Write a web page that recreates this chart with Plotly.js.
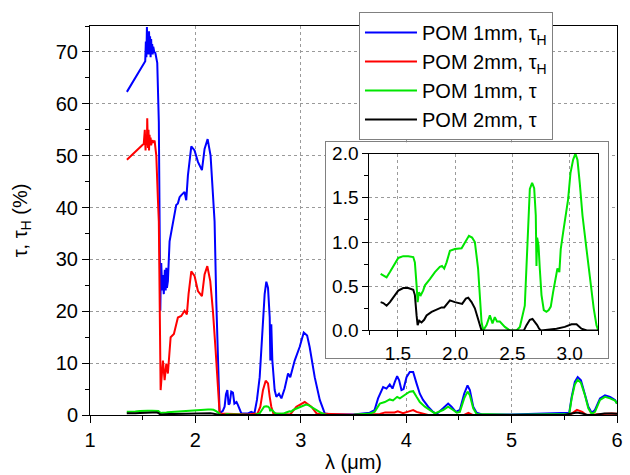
<!DOCTYPE html>
<html>
<head>
<meta charset="utf-8">
<script src="https://cdn.plot.ly/plotly-3.0.1.min.js"></script>
<style>html,body{margin:0;padding:0;background:#fff;}#chart{width:630px;height:475px;}</style>
</head>
<body>
<div id="chart"></div>
<script>
// POM 1mm, tau_H (blue)
var blueX = [1.35, 1.524, 1.53, 1.535, 1.54, 1.545, 1.55, 1.555, 1.56, 1.565, 1.57, 1.575, 1.58, 1.585, 1.59, 1.595, 1.60, 1.61, 1.62, 1.638, 1.653, 1.662, 1.667, 1.672, 1.676, 1.685, 1.69, 1.70, 1.71, 1.718, 1.724, 1.73, 1.739, 1.755, 1.786, 1.818, 1.834, 1.85, 1.866, 1.897, 1.913, 1.929, 1.961, 1.992, 2.024, 2.062, 2.087, 2.116, 2.144, 2.166, 2.182, 2.198, 2.214, 2.23, 2.26, 2.277, 2.29, 2.303, 2.315, 2.325, 2.34, 2.356, 2.37, 2.39, 2.404, 2.436, 2.50, 2.53, 2.56, 2.584, 2.61, 2.635, 2.657, 2.673, 2.689, 2.705, 2.711, 2.72, 2.73, 2.752, 2.768, 2.793, 2.816, 2.847, 2.879, 2.90, 2.942, 2.989, 3.028, 3.06, 3.084, 3.132, 3.18, 3.227, 3.3, 3.5, 3.654, 3.70, 3.733, 3.781, 3.813, 3.844, 3.87, 3.892, 3.914, 3.933, 3.955, 3.975, 4.003, 4.034, 4.066, 4.098, 4.129, 4.16, 4.208, 4.255, 4.288, 4.35, 4.398, 4.43, 4.471, 4.509, 4.55, 4.582, 4.604, 4.636, 4.668, 4.72, 5.0, 5.547, 5.57, 5.60, 5.627, 5.658, 5.696, 5.728, 5.76, 5.791, 5.839, 5.886, 5.934, 5.981, 6.0];
var blueY = [62.3, 68.2, 72, 69, 74.8, 70, 73.5, 69.5, 74, 70.5, 73, 69, 72.5, 70, 71.5, 69.5, 71, 70, 69.8, 67.9, 56.4, 37.3, 20.1, 27, 29.3, 24, 27, 23.3, 28, 24, 28.4, 24.5, 25.8, 33.5, 36.7, 40.5, 40.8, 42, 42.4, 43, 41.4, 46.2, 51.8, 51, 48.8, 47.2, 51.3, 53.2, 50, 43.7, 37.3, 22, 9.2, 0.3, 0.8, 1.6, 4.0, 4.8, 2.0, 2.2, 4.5, 4.3, 2.2, 2.5, 1.9, 0.3, 0.3, 0.6, 0.3, 2.9, 7.3, 15.6, 23.3, 25.7, 24.5, 18.8, 10.5, 17.5, 10.5, 4.8, 3.5, 4.1, 3.2, 5.1, 8.0, 7.3, 10.5, 13.1, 15.9, 15.3, 13.1, 7.3, 2.9, 0.3, 0.1, 0.1, 0.45, 0.96, 3.2, 5.4, 5.1, 5.9, 5.1, 6.4, 7.5, 6.7, 4.8, 5.0, 7.3, 8.3, 8.3, 6.1, 4.1, 2.9, 1.6, 0.6, 0.2, 1.3, 2.2, 1.6, 0.6, 0.96, 4.1, 5.7, 4.8, 1.6, 0.45, 0.1, 0.1, 0.45, 3.5, 6.4, 7.3, 6.7, 4.1, 1.6, 0.45, 0.96, 3.2, 3.8, 3.5, 2.9, 2.2];

// POM 2mm, tau_H (red)
var redX = [1.35, 1.51, 1.52, 1.527, 1.533, 1.54, 1.543, 1.55, 1.555, 1.56, 1.565, 1.57, 1.575, 1.58, 1.59, 1.60, 1.613, 1.629, 1.644, 1.653, 1.67, 1.68, 1.692, 1.708, 1.724, 1.739, 1.765, 1.796, 1.834, 1.866, 1.897, 1.919, 1.935, 1.961, 1.992, 2.024, 2.062, 2.087, 2.113, 2.141, 2.166, 2.192, 2.214, 2.23, 2.5, 2.59, 2.616, 2.641, 2.667, 2.689, 2.705, 2.72, 2.74, 2.9, 2.958, 3.037, 3.10, 3.15, 3.5, 3.75, 3.80, 3.844, 3.89, 3.92, 3.97, 4.034, 4.066, 4.098, 4.16, 4.208, 4.55, 4.59, 4.63, 5.55, 5.62, 5.67, 5.71, 5.8, 5.88, 5.95, 6.0];
var redY = [49.2, 52.3, 55, 51, 54, 52, 57.2, 51.5, 55, 51, 54, 52, 53.5, 52, 53, 52.5, 52.9, 50, 41.7, 37.3, 4.8, 7.5, 10.5, 6.7, 9.9, 8, 15, 15.6, 18.8, 19.1, 20.1, 19.4, 23.3, 27.7, 26.8, 23.9, 22.9, 27.1, 28.7, 25.8, 20.1, 12.4, 4.1, 0.3, 0.1, 0.3, 1.6, 4.8, 6.6, 6.1, 3.5, 1.6, 0.3, 0.1, 1.6, 2.5, 1.6, 0.3, 0.05, 0.2, 0.5, 0.5, 0.5, 0.7, 0.35, 0.75, 0.96, 0.6, 0.2, 0.0, 0.0, 0.4, 0.0, 0.0, 1.0, 0.6, 0.0, 0.1, 0.3, 0.3, 0.25];

// POM 1mm, tau (green)
var greenX = [1.349, 1.372, 1.401, 1.43, 1.474, 1.503, 1.546, 1.59, 1.634, 1.648, 1.663, 1.672, 1.683, 1.70, 1.72, 1.736, 1.779, 1.823, 1.866, 1.885, 1.904, 1.925, 1.954, 1.997, 2.056, 2.085, 2.12, 2.148, 2.172, 2.20, 2.216, 2.23, 2.245, 2.274, 2.303, 2.326, 2.346, 2.366, 2.39, 2.434, 2.477, 2.536, 2.565, 2.588, 2.608, 2.623, 2.637, 2.652, 2.672, 2.69, 2.704, 2.71, 2.716, 2.728, 2.739, 2.754, 2.774, 2.797, 2.817, 2.835, 2.855, 2.879, 2.893, 2.91, 2.922, 2.943, 2.966, 2.986, 3.007, 3.03, 3.05, 3.068, 3.088, 3.112, 3.147, 3.181, 3.21, 3.234, 3.25, 3.5, 3.654, 3.70, 3.75, 3.797, 3.844, 3.875, 3.914, 3.94, 3.965, 4.003, 4.034, 4.066, 4.098, 4.129, 4.177, 4.224, 4.272, 4.35, 4.398, 4.445, 4.48, 4.509, 4.55, 4.582, 4.604, 4.636, 4.668, 5.0, 5.547, 5.57, 5.60, 5.627, 5.658, 5.696, 5.728, 5.76, 5.791, 5.839, 5.886, 5.934, 5.981, 6.0];
var greenY = [0.64, 0.62, 0.60, 0.66, 0.75, 0.82, 0.84, 0.84, 0.83, 0.77, 0.51, 0.32, 0.43, 0.40, 0.45, 0.51, 0.58, 0.66, 0.72, 0.73, 0.70, 0.77, 0.90, 0.92, 0.93, 1.0, 1.07, 1.05, 1.0, 0.70, 0.40, 0.10, 0.0, 0.06, 0.17, 0.08, 0.15, 0.10, 0.10, 0.04, 0.0, 0.0, 0.04, 0.19, 0.28, 0.73, 1.22, 1.60, 1.67, 1.61, 1.30, 0.73, 1.05, 0.96, 0.70, 0.40, 0.23, 0.21, 0.23, 0.27, 0.43, 0.62, 0.70, 0.66, 0.92, 1.11, 1.30, 1.48, 1.78, 1.93, 2.0, 1.93, 1.67, 1.30, 0.92, 0.55, 0.25, 0.06, 0.0, 0.05, 0.3, 0.6, 2.2, 2.5, 3.0, 2.8, 3.5, 3.2, 3.6, 4.1, 4.5, 4.6, 3.5, 2.5, 1.6, 0.96, 0.3, 0.96, 1.6, 0.96, 0.45, 0.6, 3.2, 4.5, 3.8, 1.3, 0.2, 0.05, 0.2, 3.2, 5.9, 6.8, 6.2, 3.8, 1.3, 0.2, 0.6, 2.9, 3.5, 3.2, 2.8, 2.2];

// POM 2mm, tau (black)
var blackX = [1.349, 1.372, 1.401, 1.43, 1.474, 1.503, 1.546, 1.59, 1.634, 1.648, 1.663, 1.672, 1.686, 1.706, 1.729, 1.75, 1.794, 1.838, 1.881, 1.904, 1.925, 1.954, 1.997, 2.026, 2.061, 2.093, 2.114, 2.143, 2.172, 2.20, 2.224, 2.23, 2.5, 2.6, 2.623, 2.652, 2.675, 2.695, 2.716, 2.733, 2.75, 2.885, 2.957, 3.016, 3.06, 3.103, 3.15, 3.5, 3.75, 3.85, 3.92, 4.0, 4.07, 4.15, 4.3, 4.55, 4.6, 4.65, 5.5, 5.57, 5.62, 5.67, 5.72, 5.8, 5.88, 5.95, 6.0];
var blackY = [0.32, 0.31, 0.28, 0.32, 0.40, 0.45, 0.48, 0.48, 0.46, 0.40, 0.17, 0.06, 0.11, 0.09, 0.12, 0.17, 0.21, 0.24, 0.26, 0.26, 0.29, 0.34, 0.32, 0.31, 0.30, 0.36, 0.37, 0.32, 0.25, 0.13, 0.02, 0.0, 0.0, 0.0, 0.06, 0.12, 0.13, 0.10, 0.06, 0.02, 0.0, 0.02, 0.04, 0.07, 0.07, 0.02, 0.0, 0.0, 0.05, 0.1, 0.1, 0.08, 0.12, 0.05, 0.0, 0.05, 0.1, 0.0, 0.0, 0.3, 0.5, 0.3, 0.0, 0.05, 0.3, 0.3, 0.25];

var seriesNames = ['POM 1mm, τ<sub>H</sub>', 'POM 2mm, τ<sub>H</sub>', 'POM 1mm, τ', 'POM 2mm, τ'];
var seriesColors = ['#0000ff', '#ff0000', '#00e600', '#000000'];

var mainTicks = [0, 10, 20, 30, 40, 50, 60, 70];
var insetTicks = [0, 0.5, 1.0, 1.5, 2.0];
var insetTickText = ['0.0', '0.5', '1.0', '1.5', '2.0'];

var FONT = 'Liberation Sans, Arial, sans-serif';
var LW = 2;

var data = [
  {x: blueX, y: blueY, name: seriesNames[0], mode: 'lines', line: {color: seriesColors[0], width: LW}},
  {x: redX, y: redY, name: seriesNames[1], mode: 'lines', line: {color: seriesColors[1], width: LW}},
  {x: greenX, y: greenY, name: seriesNames[2], mode: 'lines', line: {color: seriesColors[2], width: LW}},
  {x: blackX, y: blackY, name: seriesNames[3], mode: 'lines', line: {color: seriesColors[3], width: LW}},
  // empty frame subplot for the inset's white box
  {x: [], y: [], xaxis: 'x2', yaxis: 'y2', showlegend: false, hoverinfo: 'skip', mode: 'lines'},
  // inset
  {x: greenX, y: greenY, xaxis: 'x3', yaxis: 'y3', showlegend: false, mode: 'lines', line: {color: seriesColors[2], width: LW}},
  {x: blackX, y: blackY, xaxis: 'x3', yaxis: 'y3', showlegend: false, mode: 'lines', line: {color: seriesColors[3], width: LW}}
];

var gridStyle = {showgrid: true, gridcolor: '#9a9a9a', griddash: 'dot', gridwidth: 1};

var layout = {
  width: 630, height: 475,
  margin: {l: 90, r: 13, t: 24, b: 60},
  paper_bgcolor: '#ffffff', plot_bgcolor: '#ffffff',
  font: {family: FONT, size: 20, color: '#000'},
  showlegend: true,
  legend: {
    x: 0.5104, y: 1.0358, xanchor: 'left', yanchor: 'top',
    bgcolor: '#ffffff', bordercolor: '#808080', borderwidth: 1,
    font: {family: FONT, size: 20, color: '#000'},
    tracegroupgap: 0, itemwidth: 52
  },
  xaxis: Object.assign({
    domain: [0, 1], range: [1, 6], dtick: 1, tick0: 1,
    showline: true, linecolor: '#000', linewidth: 1, mirror: true,
    ticks: 'outside', ticklen: 7, tickcolor: '#000', zeroline: false,
    minor: {ticks: 'outside', ticklen: 4, dtick: 0.5, tickcolor: '#000', showgrid: false},
    tickfont: {size: 20},
    title: {text: 'λ (μm)', font: {size: 20}, standoff: 4}
  }, gridStyle),
  yaxis: Object.assign({
    domain: [0, 1], range: [0, 75],
    tickmode: 'array', tickvals: mainTicks,
    showline: true, linecolor: '#000', linewidth: 1, mirror: true,
    ticks: 'outside', ticklen: 7, tickcolor: '#000', zeroline: false,
    minor: {ticks: 'outside', ticklen: 4, dtick: 5, tickcolor: '#000', showgrid: false},
    tickfont: {size: 20},
    title: {text: 'τ, τ<sub>H</sub> (%)', font: {size: 20}, standoff: 22}
  }, gridStyle),
  xaxis2: {
    domain: [0.4478, 0.9829], range: [0, 1], anchor: 'y2',
    showline: true, mirror: true, linecolor: '#808080', linewidth: 1,
    showgrid: false, zeroline: false, showticklabels: false, ticks: '', fixedrange: true
  },
  yaxis2: {
    domain: [0.1458, 0.7008], range: [0, 1], anchor: 'x2',
    showline: true, mirror: true, linecolor: '#808080', linewidth: 1,
    showgrid: false, zeroline: false, showticklabels: false, ticks: '', fixedrange: true
  },
  xaxis3: Object.assign({
    domain: [0.530, 0.9645], range: [1.25, 3.25], anchor: 'y3',
    dtick: 0.5, tick0: 1.5, tickformat: '.1f',
    showline: true, mirror: true, linecolor: '#000', linewidth: 1,
    ticks: 'outside', ticklen: 6, tickcolor: '#000', zeroline: false,
    minor: {ticks: 'outside', ticklen: 4, dtick: 0.25, tick0: 1.25, tickcolor: '#000', showgrid: false},
    tickfont: {size: 19}
  }, gridStyle),
  yaxis3: Object.assign({
    domain: [0.2174, 0.6719], range: [0, 2], anchor: 'x3',
    tickmode: 'array', tickvals: insetTicks, ticktext: insetTickText,
    showline: true, mirror: true, linecolor: '#000', linewidth: 1,
    ticks: 'outside', ticklen: 6, tickcolor: '#000', zeroline: false,
    minor: {ticks: 'outside', ticklen: 4, dtick: 0.25, tickcolor: '#000', showgrid: false},
    tickfont: {size: 19}
  }, gridStyle)
};

Plotly.newPlot('chart', data, layout, {displayModeBar: false, staticPlot: true});
</script>
</body>
</html>
